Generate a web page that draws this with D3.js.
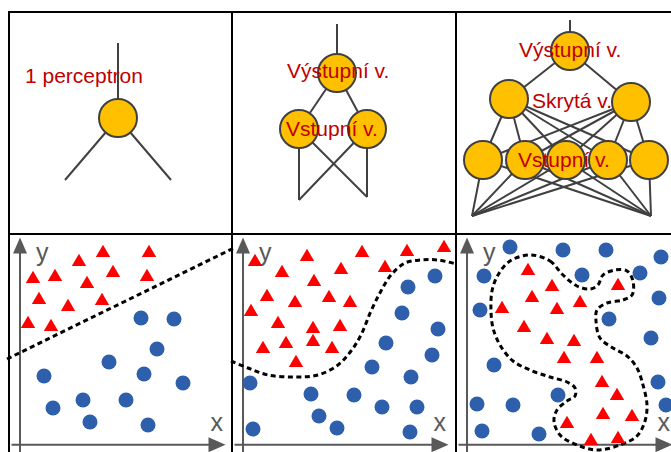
<!DOCTYPE html>
<html><head><meta charset="utf-8">
<script src="https://cdn.jsdelivr.net/npm/d3@7"></script>
<style>body{margin:0;background:#fff}svg{display:block}</style>
</head><body><svg id="c" width="671" height="452"></svg>
<script>
// ---------- DATA (panel-local units) ----------
// Top row: network diagrams. Layers from top to bottom; consecutive layers fully connected.
const net1Layers = [[[109,31]], [[109,106]], [[56,168],[162,168]]];
const net1Circles = [1];
const net1Labels = [{t:"1 perceptron", x:16, y:71}];

const net2Layers = [[[105,12]], [[105,61]], [[67,117],[135,117]], [[67,188],[135,185]]];
const net2Circles = [1, 2];
const net2Labels = [{t:"Výstupní v.", x:55, y:66}, {t:"Vstupní v.", x:54, y:124}];

const net3Layers = [[[114,8]], [[114,39]], [[53,87],[175,90]],
  [[27,148],[69,148],[110,148],[152,148],[193,148]], [[16,204],[195,204]]];
const net3Circles = [1, 2, 3];
const net3Labels = [{t:"Výstupní v.", x:63, y:45}, {t:"Skrytá v.", x:76, y:96}, {t:"Vstupní v.", x:62, y:155}];

// Bottom row: scatter data (x from panel left, y up from bottom)
const s1Triangles = [[70,192],[94,201],[140,201],[24,175],[46,177],[78,170],[104,181],[138,177],
  [30,154],[59,147],[93,153],[19,130],[42,127]];
const s1Circles = [[132,134],[165,133],[148,103],[100,90],[35,76],[135,78],[174,69],[74,52],
  [117,52],[44,44],[81,30],[139,27]];
const s1Boundary = [[-2,93],[225,204]];

const s2Triangles = [[23,192],[75,197],[130,201],[175,202],[212,206],[50,181],[109,184],[153,186],
  [82,172],[35,157],[63,151],[97,156],[118,151],[19,142],[46,130],[81,125],[108,127],[31,105],
  [54,110],[81,112],[100,105],[64,91]];
const s2Circles = [[203,176],[176,165],[170,139],[206,123],[154,109],[200,97],[140,85],[179,75],
  [18,69],[79,58],[122,57],[150,45],[185,45],[87,36],[21,23],[105,24],[178,20]];
const s2Boundary = [[-1,91],[16,84],[36,77],[63,75],[86,77],[106,87],[119,101],[129,117],[139,141],
  [149,161],[159,177],[173,189],[189,192],[206,192],[224,188]];

const s3Triangles = [[72,183],[96,167],[162,168],[76,156],[46,145],[101,144],[124,151],[68,126],
  [91,114],[118,112],[108,95],[141,95],[146,71],[161,58],[147,39],[176,37],[111,30],[135,13],[162,15]];
const s3Circles = [[54,205],[107,202],[150,202],[205,195],[28,176],[126,177],[184,179],[203,154],
  [24,142],[153,133],[195,114],[38,87],[202,70],[102,57],[21,48],[57,47],[210,47],[26,21],[83,18]];
const s3Boundary = [[74,197],[94,191],[107,177],[121,166],[134,163],[142,167],[147,177],[159,182],
  [171,181],[177,171],[176,157],[167,152],[151,149],[141,142],[140,131],[144,114],[157,104],[171,96],
  [181,84],[187,67],[191,47],[189,31],[181,16],[164,7],[141,2],[121,7],[104,17],[98,31],[101,42],
  [111,51],[119,56],[119,64],[111,70],[94,75],[74,82],[57,91],[44,107],[37,124],[35,141],[36,161],
  [42,177],[54,191]];

const axisLabels = ["x", "y"];

// ---------- DRAW ----------
const svg = d3.select("#c");
const W = 671, H = 452;
const cols = [9, 232, 456];
const rowTop = 12, rowMid = 234;
const gray = "#595959", lineCol = "#404040", red = "#c00000";

// Panel grid lines
const g0 = svg.append("g");
cols.forEach(x => g0.append("line").attr("x1", x).attr("x2", x).attr("y1", rowTop - 1).attr("y2", H)
  .attr("stroke", "#000").attr("stroke-width", 2));
[rowTop, rowMid].forEach(y => g0.append("line").attr("x1", cols[0] - 1).attr("x2", W).attr("y1", y).attr("y2", y)
  .attr("stroke", "#000").attr("stroke-width", 2));

// Networks
function drawNet(col, layers, circleLayers, labels, r) {
  const xs = d3.scaleLinear().domain([0, 223]).range([cols[col], cols[col] + 223]);
  const ys = d3.scaleLinear().domain([0, 222]).range([rowTop, rowMid]);
  const g = svg.append("g");
  for (let i = 0; i < layers.length - 1; i++) {
    layers[i].forEach(a => layers[i + 1].forEach(b => {
      g.append("line").attr("x1", xs(a[0])).attr("y1", ys(a[1])).attr("x2", xs(b[0])).attr("y2", ys(b[1]))
        .attr("stroke", lineCol).attr("stroke-width", 2);
    }));
  }
  circleLayers.forEach(li => {
    g.selectAll(null).data(layers[li]).join("circle")
      .attr("cx", d => xs(d[0])).attr("cy", d => ys(d[1])).attr("r", r)
      .attr("fill", "#ffc000").attr("stroke", lineCol).attr("stroke-width", 2);
  });
  g.selectAll(null).data(labels).join("text")
    .attr("x", d => xs(d.x)).attr("y", d => ys(d.y)).text(d => d.t)
    .attr("fill", red).attr("font-family", "Liberation Sans, Arial, sans-serif").attr("font-size", 21);
}
drawNet(0, net1Layers, net1Circles, net1Labels, 19);
drawNet(1, net2Layers, net2Circles, net2Labels, 19);
drawNet(2, net3Layers, net3Circles, net3Labels, 19);

// Scatter panels
const triPath = "M0,-6.2L7.2,6L-7.2,6Z";
function drawScatter(col, tris, circs, boundary, closed) {
  const xs = d3.scaleLinear().domain([0, 218]).range([cols[col], cols[col] + 218]);
  const ys = d3.scaleLinear().domain([0, 218]).range([H, rowMid]);
  const g = svg.append("g");
  // axes
  const ax = xs(11), ay = ys(7.3);
  g.append("line").attr("x1", ax).attr("x2", ax).attr("y1", H).attr("y2", ys(200))
    .attr("stroke", gray).attr("stroke-width", 2);
  g.append("path").attr("d", `M${ax},${ys(214.5)}L${ax + 7},${ys(214.5) + 16}L${ax - 7},${ys(214.5) + 16}Z`).attr("fill", gray);
  const tipX = xs(216.5);
  g.append("line").attr("x1", xs(2.5)).attr("x2", tipX - 12).attr("y1", ay).attr("y2", ay)
    .attr("stroke", gray).attr("stroke-width", 2);
  g.append("path").attr("d", `M${tipX},${ay}L${tipX - 17},${ay - 7.5}L${tipX - 17},${ay + 7.5}Z`).attr("fill", gray);
  g.append("text").attr("x", xs(27)).attr("y", ys(191)).text(axisLabels[1])
    .attr("fill", gray).attr("font-family", "Liberation Sans, Arial, sans-serif").attr("font-size", 25);
  g.append("text").attr("x", tipX - 15).attr("y", ys(21)).text(axisLabels[0])
    .attr("fill", gray).attr("font-family", "Liberation Sans, Arial, sans-serif").attr("font-size", 25);
  // boundary
  const line = d3.line().x(d => xs(d[0])).y(d => ys(d[1]))
    .curve(closed ? d3.curveCatmullRomClosed : (boundary.length > 2 ? d3.curveCatmullRom : d3.curveLinear));
  g.append("path").attr("d", line(boundary)).attr("fill", "none").attr("stroke", "#000")
    .attr("stroke-width", 3).attr("stroke-dasharray", "5,3.5");
  // points
  g.selectAll(null).data(circs).join("circle")
    .attr("cx", d => xs(d[0])).attr("cy", d => ys(d[1])).attr("r", 7.5).attr("fill", "#2e5fac");
  g.selectAll(null).data(tris).join("path")
    .attr("transform", d => `translate(${xs(d[0])},${ys(d[1])})`).attr("d", triPath).attr("fill", "#ff0000");
}
drawScatter(0, s1Triangles, s1Circles, s1Boundary, false);
drawScatter(1, s2Triangles, s2Circles, s2Boundary, false);
drawScatter(2, s3Triangles, s3Circles, s3Boundary, true);
</script></body></html>
